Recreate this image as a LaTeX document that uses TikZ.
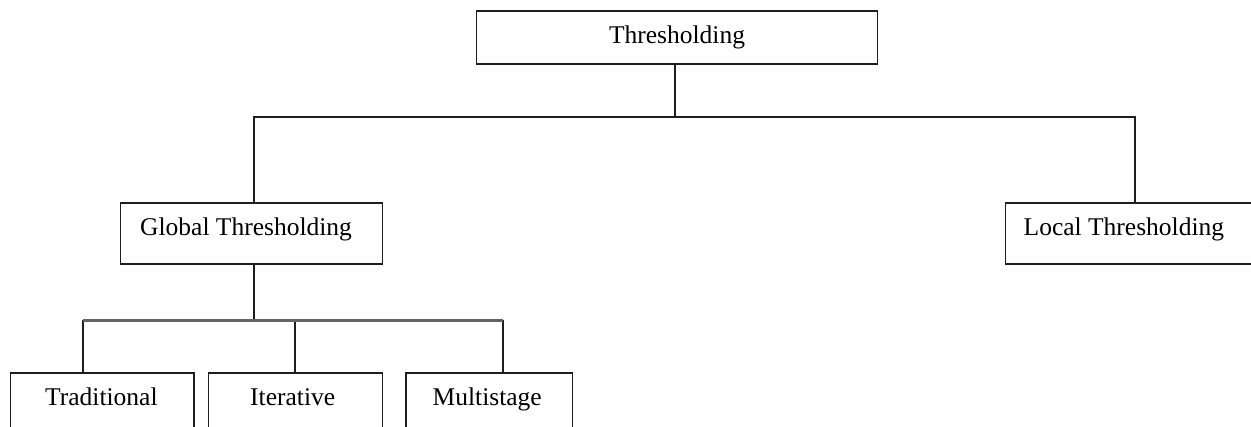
\documentclass[tikz,border=0pt]{standalone}
\usepackage{fontspec}
\setmainfont{Liberation Serif}
\usetikzlibrary{calc}
\definecolor{ln}{RGB}{30,30,30}
\definecolor{busgray}{RGB}{100,100,100}
\tikzset{
  box/.style={draw=ln, line width=1.7pt, inner sep=0pt, outer sep=0pt, fill=white},
  lbl/.style={anchor=base west, inner sep=0pt, font=\fontsize{25.5}{28}\selectfont, text=black},
  lblc/.style={anchor=base, inner sep=0pt, font=\fontsize{25.5}{28}\selectfont, text=black},
  conn/.style={draw=ln, line width=1.8pt},
  bus/.style={draw=busgray, line width=3pt}
}
\begin{document}
\begin{tikzpicture}[x=1pt, y=-1pt]
\useasboundingbox (0,0) rectangle (1251,426);
\fill[white] (0,0) rectangle (1251,426);
\clip (0,0) rectangle (1251,426);
% boxes
\node[box, minimum width=401pt, minimum height=53pt] (top) at (677,37.5) {};
\node[box, minimum width=262pt, minimum height=61pt] (global) at (251.5,233.5) {};
\node[box, minimum width=290pt, minimum height=61pt] (local) at (1150.5,233.5) {};
\node[box, minimum width=183.5pt, minimum height=70pt] (trad) at (102.25,408) {};
\node[box, minimum width=174pt, minimum height=70pt] (iter) at (295.5,408) {};
\node[box, minimum width=166.5pt, minimum height=70pt] (multi) at (489.25,408) {};
% texts
\node[lblc] (topT) at (677,43) {Thresholding};
\node[lbl] (globalT) at (140,235) {Global Thresholding};
\node[lbl] (localT) at (1023.5,235) {Local Thresholding};
\node[lbl] (tradT) at (45,405) {Traditional};
\node[lbl] (iterT) at (250,405) {Iterative};
\node[lbl] (multiT) at (432.5,405) {Multistage};
% junction coordinates
\coordinate (j1) at (675,117);
\coordinate (gx) at (254,0);
\coordinate (lx) at (1135,0);
\coordinate (j2) at (254,320);
\coordinate (tx) at (83,0);
\coordinate (ix) at (295,0);
\coordinate (mx) at (503,0);
% connectors level 1
\draw[conn] (top.south -| j1) -- (j1);
\draw[conn] (global.north -| gx) |- (j1);
\draw[conn] (local.north -| lx) |- (j1);
% connectors level 2
\draw[conn] (global.south -| gx) -- (j2);
\draw[conn] (trad.north -| tx) -- (j2 -| tx);
\draw[conn] (iter.north -| ix) -- (j2 -| ix);
\draw[conn] (multi.north -| mx) -- (j2 -| mx);
\draw[bus] (j2 -| tx) -- (j2 -| mx);
\end{tikzpicture}
\end{document}
